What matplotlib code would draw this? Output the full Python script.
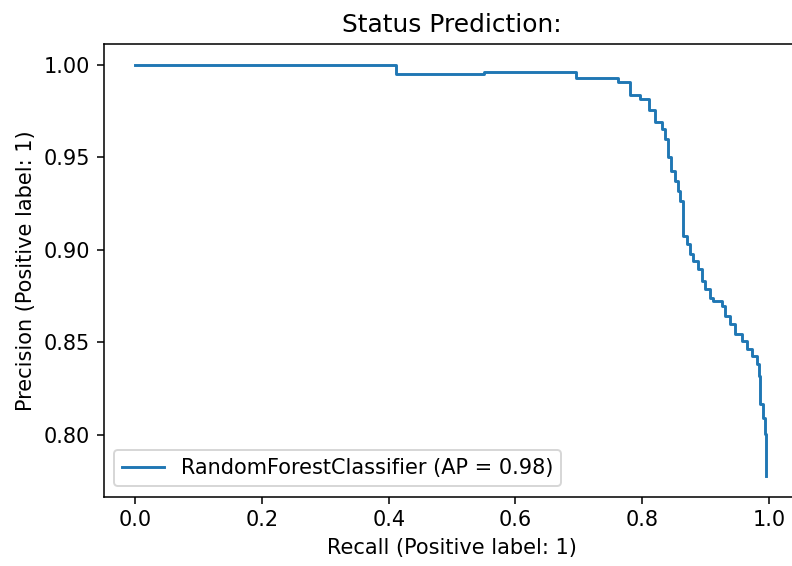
import matplotlib
matplotlib.use("Agg")
import matplotlib.pyplot as plt

plt.rcParams.update({"font.size": 10.8})

# precision-recall curve, read as step corners (steps-post, recall increasing)
recall = [
    0.0, 0.412, 0.551, 0.696, 0.762, 0.7815, 0.796, 0.811, 0.820, 0.8305,
    0.836, 0.841, 0.846, 0.8515, 0.856, 0.8594, 0.8637, 0.8647, 0.871, 0.8752,
    0.8804, 0.8883, 0.8937, 0.8989, 0.9068, 0.912, 0.9253, 0.9305, 0.9384,
    0.9463, 0.9569, 0.9648, 0.9727, 0.9806, 0.9847, 0.9858, 0.990, 0.9937,
    0.996,
]
precision = [
    1.0, 0.9951, 0.9960, 0.9929, 0.9906, 0.9838, 0.9816, 0.9753, 0.9689,
    0.9654, 0.960, 0.950, 0.9428, 0.9374, 0.932, 0.9263, 0.9194, 0.9076,
    0.9031, 0.8977, 0.8941, 0.8896, 0.8833, 0.8788, 0.8742, 0.8725, 0.8698,
    0.8643, 0.8598, 0.8544, 0.8508, 0.8463, 0.8427, 0.8382, 0.8319, 0.8166,
    0.8093, 0.8003, 0.7778,
]
model_name = "RandomForestClassifier"
avg_precision = 0.98

dpi = 139
fig = plt.figure(figsize=(792 / dpi, 566 / dpi), dpi=dpi)
# axes runs a little past the right edge of the figure
ax = fig.add_axes([0.1307, 0.1224, 0.8802, 0.7998])

ax.plot(recall, precision, drawstyle="steps-post",
        label=f"{model_name} (AP = {avg_precision:.2f})")
ax.set_xlim(-0.05, 1.05)
ax.set_xlabel("Recall (Positive label: 1)")
ax.set_ylabel("Precision (Positive label: 1)")
ax.set_title("Status Prediction:", fontsize=12.9)
ax.legend(loc="lower left")

fig.savefig("out.png", dpi=dpi)
